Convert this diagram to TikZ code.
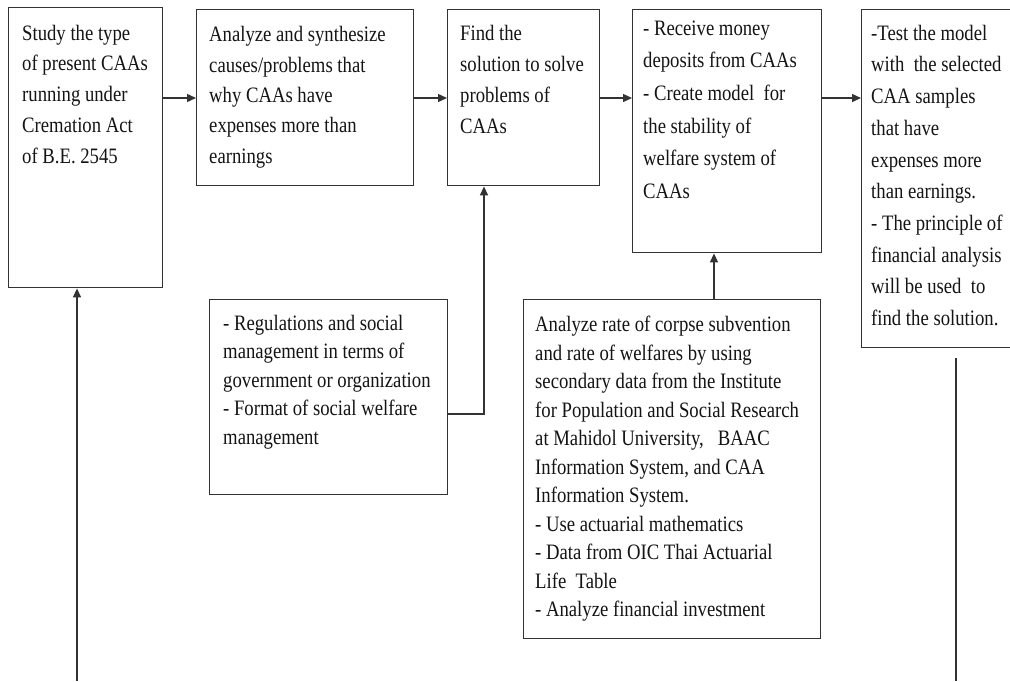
\documentclass[tikz,border=0pt]{standalone}
\usepackage{fontspec}
\setmainfont[FakeStretch=0.85]{Liberation Serif}
\usetikzlibrary{arrows.meta}
\definecolor{linec}{HTML}{333333}
\definecolor{textc}{HTML}{141414}
\newcommand{\fl}{\rule{0pt}{20pt}}
\begin{document}
\begin{tikzpicture}[x=1pt,y=-1pt,
  box/.style={draw=linec, line width=1.4pt, inner sep=0pt, anchor=north west},
  txt/.style={anchor=north west, inner sep=0pt, align=left, font=\fontsize{22}{#1}\selectfont, text=textc},
  conn/.style={draw=linec, line width=1.4pt},
  arr/.style={conn, -{Triangle[length=9pt,width=8pt]}}]
\useasboundingbox[fill=white] (0,0) rectangle (1010,681);
\clip (0,0) rectangle (1010,681);
% boxes
\node[box, minimum width=154pt, minimum height=280pt] (b1) at (8,7) {};
\node[box, minimum width=217pt, minimum height=176pt] (b2) at (196,9) {};
\node[box, minimum width=152pt, minimum height=176pt] (b3) at (447,9) {};
\node[box, minimum width=189pt, minimum height=243pt] (b4) at (632,9) {};
\node[box, minimum width=160pt, minimum height=338pt] (b5) at (861,9) {};
\node[box, minimum width=238pt, minimum height=195pt] (b6) at (209,299) {};
\node[box, minimum width=297pt, minimum height=339pt] (b7) at (523,299) {};
% texts
\node[txt=30.75pt] (t1) at (22,20) {\fl Study the type\\of present CAAs\\running under\\Cremation Act\\of B.E. 2545};
\node[txt=30.3pt] (t2) at (209,21.7) {\fl Analyze and synthesize\\causes/problems that\\why CAAs have\\expenses more than\\earnings};
\node[txt=31pt] (t3) at (460,20) {\fl Find the\\solution to solve\\problems of\\CAAs};
\node[txt=32.6pt] (t4) at (643,15) {\fl - Receive money\\deposits from CAAs\\- Create model\ \ for\\the stability of\\welfare system of\\CAAs};
\node[txt=31.7pt] (t5) at (871,20) {\fl -Test the model\\with\ \ the selected\\CAA samples\\that have\\expenses more\\than earnings.\\- The principle of\\financial analysis\\will be used\ \ to\\find the solution.};
\node[txt=28.5pt] (t6) at (223,310) {\fl - Regulations and social\\management in terms of\\government or organization\\- Format of social welfare\\management};
\node[txt=28.5pt] (t7) at (535,311.7) {\fl Analyze rate of corpse subvention\\and rate of welfares by using\\secondary data from the Institute\\for Population and Social Research\\at Mahidol University,\ \ \ BAAC\\Information System, and CAA\\Information System.\\- Use actuarial mathematics\\- Data from OIC Thai Actuarial\\Life\ \ Table\\- Analyze financial investment};
% helper coordinates
\coordinate (r) at (0,98);
\coordinate (j6) at (484,414);
\coordinate (c7) at (714,0);
\coordinate (f1) at (77,681);
\coordinate (f5a) at (956,358);
\coordinate (f5b) at (956,681);
% connectors
\draw[arr] (b1.east |- r) -- (b2.west |- r);
\draw[arr] (b2.east |- r) -- (b3.west |- r);
\draw[arr] (b3.east |- r) -- (b4.west |- r);
\draw[arr] (b4.east |- r) -- (b5.west |- r);
\draw[arr] (b6.east |- j6) -| (b3.south -| j6);
\draw[arr] (b7.north -| c7) -- (b4.south -| c7);
\draw[arr] (f1) -- (b1.south -| f1);
\draw[conn] (f5a) -- (f5b);
\end{tikzpicture}
\end{document}
